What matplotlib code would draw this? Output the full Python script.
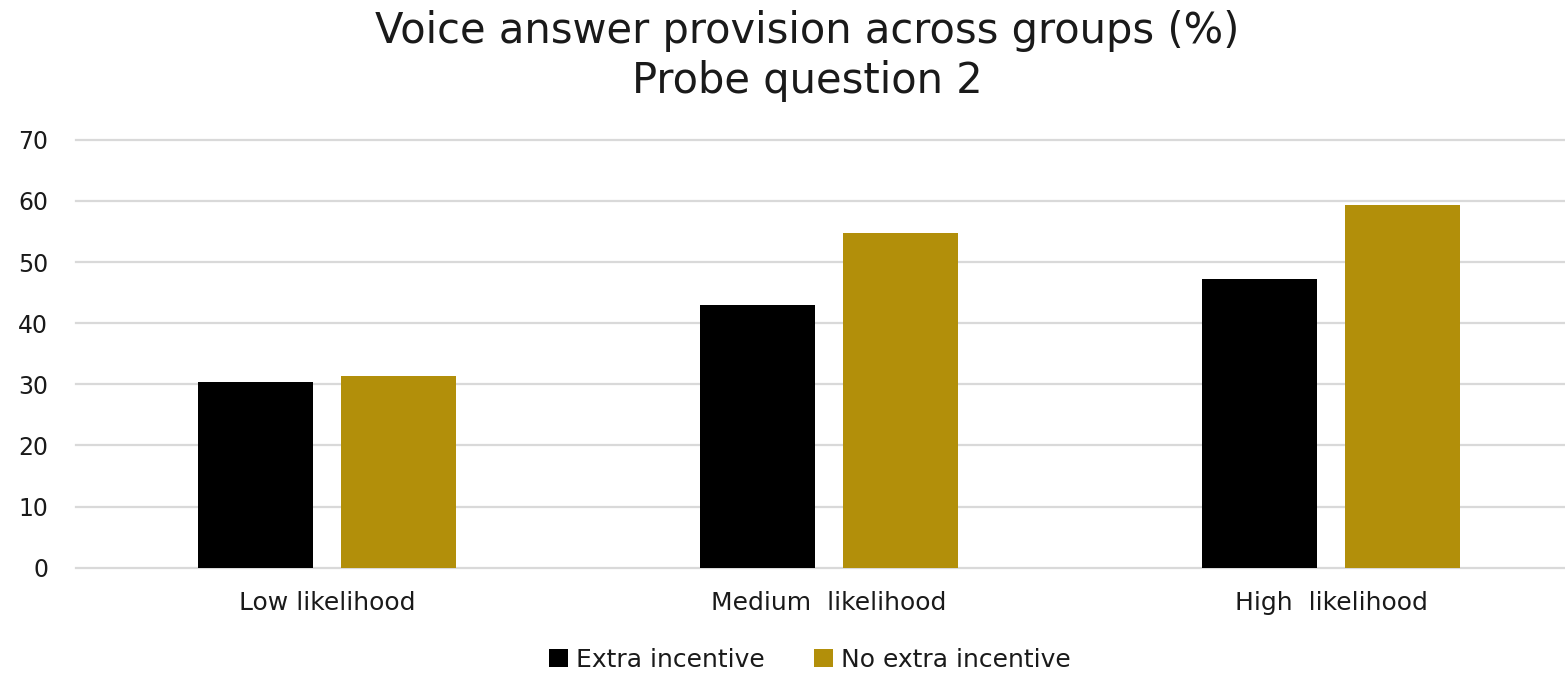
import matplotlib
matplotlib.use("Agg")
import matplotlib.pyplot as plt
import numpy as np
from matplotlib.patches import Patch

categories = ["Low likelihood", "Medium  likelihood", "High  likelihood"]
extra_incentive = [30.3, 42.9, 47.2]
no_extra_incentive = [31.4, 54.7, 59.4]
series_names = ["Extra incentive", "No extra incentive"]
y_ticks = [0, 10, 20, 30, 40, 50, 60, 70]

black = "#000000"
gold = "#B28F0A"
grid_color = "#D9D9D9"
text_color = "#1A1A1A"

plt.rcParams["font.family"] = ["DejaVu Sans"]

W, H = 1565, 673
fig = plt.figure(figsize=(W / 100, H / 100), dpi=100)
ax = fig.add_axes([76 / W, 1 - 567.7 / H, 1506 / W, 427.9 / H])

x = np.arange(len(categories))
bw = 0.229
off = 0.1424
ax.bar(x - off, extra_incentive, bw, color=black, zorder=3)
ax.bar(x + off, no_extra_incentive, bw, color=gold, zorder=3)

ax.set_xlim(-0.5, len(categories) - 0.5)
ax.set_ylim(0, 70)
ax.set_yticks(y_ticks)
ax.set_yticklabels([str(t) for t in y_ticks], fontsize=17, color=text_color)
ax.tick_params(axis="y", length=0, pad=20)
ax.set_xticks(x)
ax.set_xticklabels(categories, fontsize=18, color=text_color)
ax.tick_params(axis="x", length=0, pad=17)
for t in y_ticks:
    ax.axhline(t, color=grid_color, linewidth=1.6, zorder=0, clip_on=False)
for s in ax.spines.values():
    s.set_visible(False)

fig.text(807 / W, 1 - 31 / H, "Voice answer provision across groups (%)",
         ha="center", va="center", fontsize=30, color=text_color)
fig.text(807 / W, 1 - 81 / H, "Probe question 2",
         ha="center", va="center", fontsize=30, color=text_color)

handles = [Patch(facecolor=black, label=series_names[0]),
           Patch(facecolor=gold, label=series_names[1])]
fig.legend(handles=handles, loc="center", bbox_to_anchor=(810 / W, 1 - 660 / H),
           ncol=2, frameon=False, fontsize=18, handlelength=0.75, handleheight=0.75,
           handletextpad=0.3, columnspacing=2.0, labelcolor=text_color)

fig.savefig("out.png", dpi=100, facecolor="white")
